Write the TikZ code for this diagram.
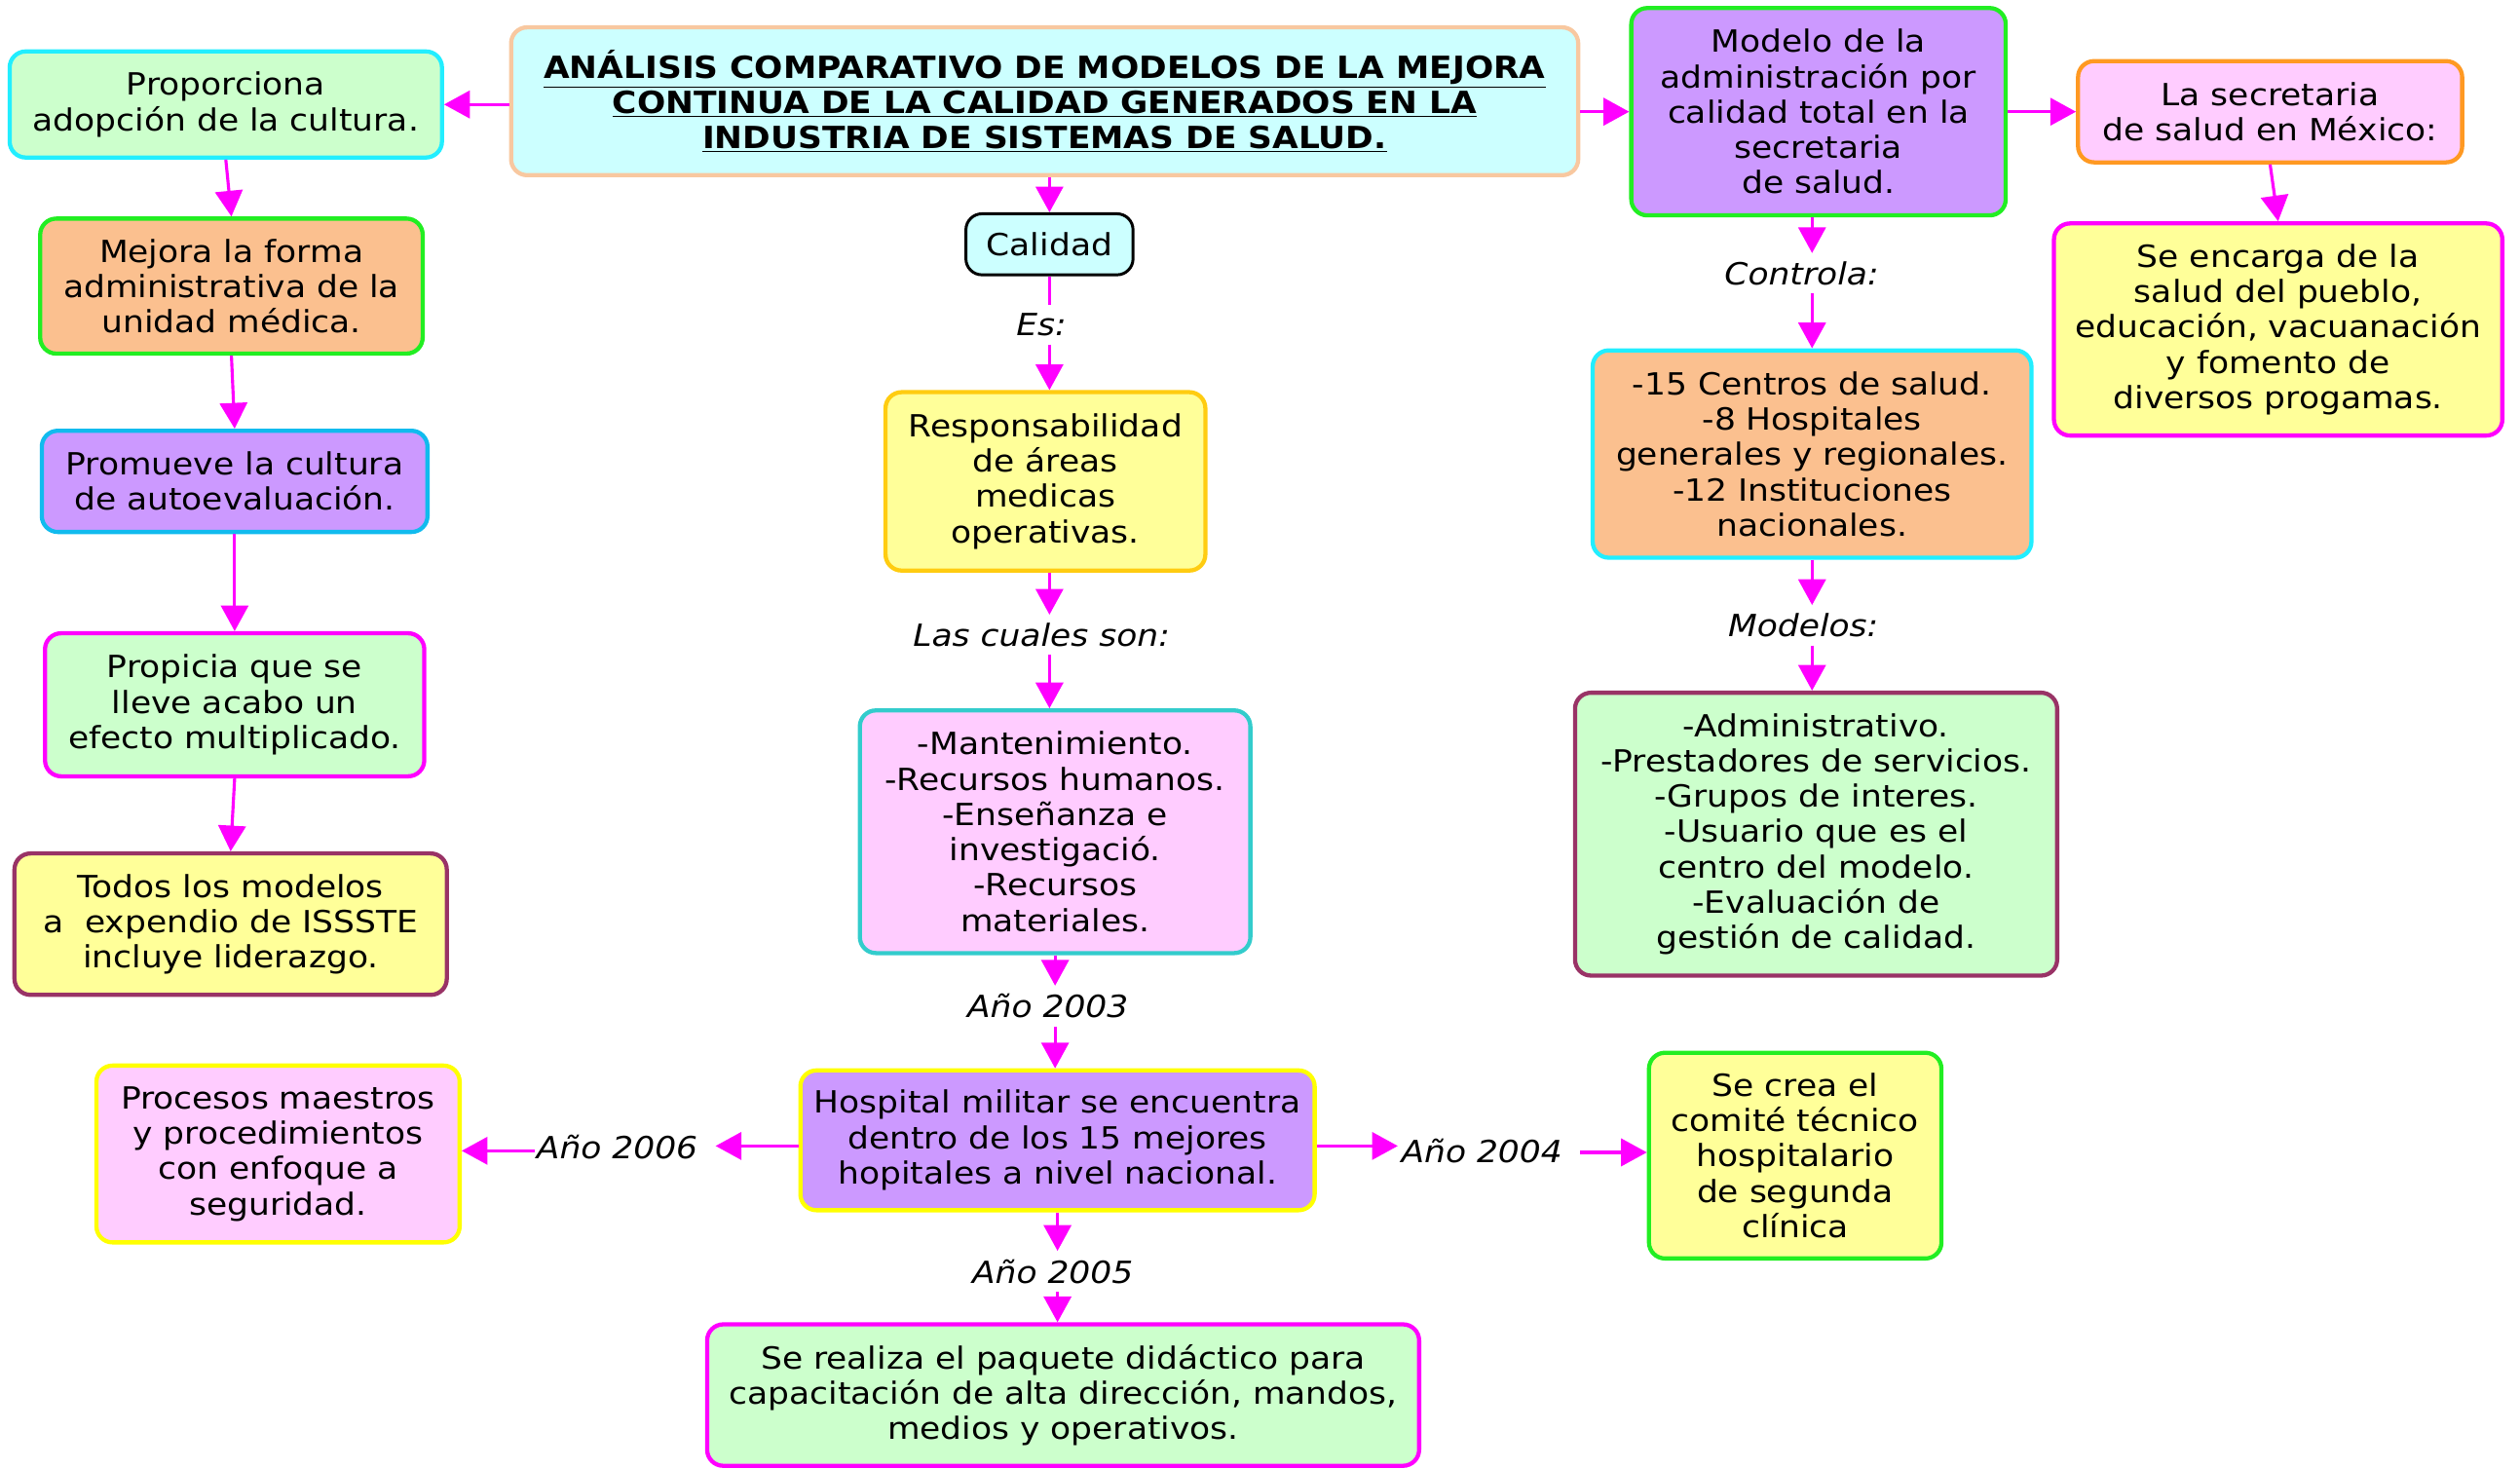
\documentclass[tikz,border=0pt]{standalone}
\usepackage{fontspec}
\setmainfont[FakeStretch=1.1]{DejaVu Sans}
\usetikzlibrary{arrows.meta}
\definecolor{mag}{HTML}{FF00FF}
\definecolor{fcyan}{HTML}{CCFFFF}
\definecolor{fgreen}{HTML}{CCFFCC}
\definecolor{fpeach}{HTML}{FBC08F}
\definecolor{flav}{HTML}{CC99FF}
\definecolor{fyel}{HTML}{FFFF99}
\definecolor{fpink}{HTML}{FFCCFF}
\definecolor{bcyan}{HTML}{22EEFF}
\definecolor{bgreen}{HTML}{22EE22}
\definecolor{bsky}{HTML}{11BBEE}
\definecolor{bmaroon}{HTML}{993366}
\definecolor{bgold}{HTML}{FFCC11}
\definecolor{bteal}{HTML}{33CCCC}
\definecolor{byel}{HTML}{FFFF00}
\definecolor{borange}{HTML}{FF9922}
\definecolor{bpeach}{HTML}{F8C8A0}
\tikzset{
  box/.style={draw, rounded corners=10pt, line width=2.6pt, align=center, inner sep=2pt,
    font=\fontsize{19}{22}\selectfont},
  lbl/.style={font=\fontsize{19}{22}\selectfont\itshape, inner sep=5pt},
  arr/.style={draw=mag, line width=1.9pt, -{Triangle[length=16pt,width=17pt]}},
  lin/.style={draw=mag, line width=1.9pt},
}
\begin{document}
\begin{tikzpicture}[x=1pt,y=1pt]
\useasboundingbox (0,0) rectangle (1568,-914);
% nodes
\node[box, fill=fcyan, draw=bpeach, minimum width=664, minimum height=92,
  font=\fontsize{19}{22}\selectfont\bfseries] (title) at (650,-63)
  {\underline{ANÁLISIS COMPARATIVO DE MODELOS DE LA MEJORA}\\
   \underline{CONTINUA DE LA CALIDAD GENERADOS EN LA}\\
   \underline{INDUSTRIA DE SISTEMAS DE SALUD.}};
\node[box, fill=fgreen, draw=bcyan, minimum width=269, minimum height=66] (prop) at (140.5,-65)
  {Proporciona\\adopción de la cultura.};
\node[box, fill=fpeach, draw=bgreen, minimum width=238, minimum height=84] (mejora) at (144,-178)
  {Mejora la forma\\administrativa de la\\unidad médica.};
\node[box, fill=flav, draw=bsky, minimum width=240, minimum height=63] (prom) at (146,-299.5)
  {Promueve la cultura\\de autoevaluación.};
\node[box, fill=fgreen, draw=mag, minimum width=236, minimum height=89] (propi) at (146,-438.5)
  {Propicia que se\\lleve acabo un\\efecto multiplicado.};
\node[box, fill=fyel, draw=bmaroon, minimum width=269, minimum height=88] (todos) at (143.5,-575)
  {Todos los modelos\\a\ \ expendio de ISSSTE\\incluye liderazgo.};
\node[box, fill=fcyan, draw=black, line width=1.8pt, minimum width=104, minimum height=38] (cal) at (653,-152)
  {Calidad};
\node[box, fill=fyel, draw=bgold, minimum width=199, minimum height=111] (resp) at (650.5,-299.5)
  {Responsabilidad\\de áreas\\medicas\\operativas.};
\node[box, fill=fpink, draw=bteal, minimum width=243, minimum height=151] (mant) at (656.5,-517.5)
  {-Mantenimiento.\\-Recursos humanos.\\-Enseñanza e\\investigació.\\-Recursos\\materiales.};
\node[box, fill=flav, draw=byel, minimum width=320, minimum height=87] (hosp) at (658,-709.5)
  {Hospital militar se encuentra\\dentro de los 15 mejores\\hopitales a nivel nacional.};
\node[box, fill=fpink, draw=byel, minimum width=226, minimum height=110] (proc) at (173,-718)
  {Procesos maestros\\y procedimientos\\con enfoque a\\seguridad.};
\node[box, fill=fyel, draw=bgreen, minimum width=182, minimum height=128] (comite) at (1117,-719)
  {Se crea el\\comité técnico\\hospitalario\\de segunda\\clínica};
\node[box, fill=fgreen, draw=mag, minimum width=443, minimum height=88] (paq) at (661.5,-868)
  {Se realiza el paquete didáctico para\\capacitación de alta dirección, mandos,\\medios y operativos.};
\node[box, fill=flav, draw=bgreen, minimum width=233, minimum height=129] (modelo) at (1131.5,-69.5)
  {Modelo de la\\administración por\\calidad total en la\\secretaria\\de salud.};
\node[box, fill=fpink, draw=borange, minimum width=239, minimum height=63] (secr) at (1412.5,-69.5)
  {La secretaria\\de salud en México:};
\node[box, fill=fyel, draw=mag, minimum width=279, minimum height=132] (enc) at (1417.5,-205)
  {Se encarga de la\\salud del pueblo,\\educación, vacuanación\\y fomento de\\diversos progamas.};
\node[box, fill=fpeach, draw=bcyan, minimum width=273, minimum height=129] (cent) at (1127.5,-282.5)
  {-15 Centros de salud.\\-8 Hospitales\\generales y regionales.\\-12 Instituciones\\nacionales.};
\node[box, fill=fgreen, draw=bmaroon, minimum width=300, minimum height=176] (adm) at (1130,-519)
  {-Administrativo.\\-Prestadores de servicios.\\-Grupos de interes.\\-Usuario que es el\\centro del modelo.\\-Evaluación de\\gestión de calidad.};
% labels
\node[lbl] (es) at (648,-202) {Es:};
\node[lbl] (cuales) at (648,-395) {Las cuales son:};
\node[lbl] (a2003) at (652,-626) {Año 2003};
\node[lbl] (a2005) at (655,-791) {Año 2005};
\node[lbl, inner sep=1pt] (a2006) at (384,-714) {Año 2006};
\node[lbl, inner sep=1pt] (a2004) at (922,-716) {Año 2004};
\node[lbl] (contr) at (1121,-170) {Controla:};
\node[lbl] (modl) at (1122,-389) {Modelos:};
% connectors
\draw[arr] (title.west |- prop.east) -- (prop.east);
\draw[arr] (title.east |- modelo.west) -- (modelo.west);
\draw[arr] (title.south -| cal.north) -- (cal.north);
\draw[arr] (modelo.east |- secr.west) -- (secr.west);
\draw[arr] (secr.south) -- (enc.north);
\draw[arr] (prop.south) -- (mejora.north);
\draw[arr] (mejora.south) -- (prom.north);
\draw[arr] (prom.south) -- (propi.north);
\draw[arr] (propi.south) -- (todos.north);
\draw[lin] (cal.south) -- (es.north -| cal.south);
\draw[arr] (es.south -| cal.south) -- (resp.north -| cal.south);
\draw[arr] (resp.south -| cal.south) -- (cuales.north -| cal.south);
\draw[arr] (cuales.south -| cal.south) -- (mant.north -| cal.south);
\draw[arr] (mant.south) -- (a2003.north -| mant.south);
\draw[arr] (a2003.south -| mant.south) -- (hosp.north -| mant.south);
\draw[arr] (hosp.south) -- (a2005.north -| hosp.south);
\draw[arr] (a2005.south -| hosp.south) -- (paq.north -| hosp.south);
\draw[arr] (hosp.west |- 0,-713) -- ([xshift=10pt]a2006.east |- 0,-713);
\draw[arr] (a2006.west |- 0,-716) -- (proc.east |- 0,-716);
\draw[arr] (hosp.east |- 0,-713) -- ([xshift=-1pt]a2004.west |- 0,-713);
\draw[arr] ([xshift=10pt]a2004.east |- 0,-717) -- (comite.west |- 0,-717);
\draw[arr] (modelo.south -| cent.north) -- (contr.north -| cent.north);
\draw[arr] (contr.south -| cent.north) -- (cent.north);
\draw[arr] (cent.south) -- (modl.north -| cent.south);
\draw[arr] (modl.south -| cent.south) -- (adm.north -| cent.south);
\end{tikzpicture}
\end{document}
